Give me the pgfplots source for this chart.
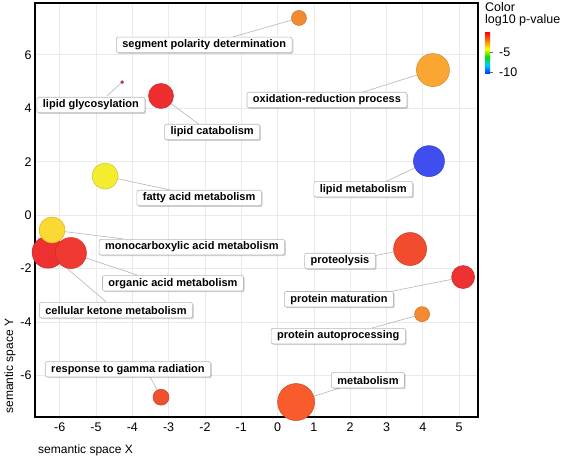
\documentclass[border=0pt]{standalone}
\usepackage{pgfplots}
\pgfplotsset{compat=1.18}
\usepackage{fontspec}
\setmainfont{Liberation Sans}
\usetikzlibrary{shadows}

\definecolor{cSeg}{HTML}{F28A30}
\definecolor{cGly}{HTML}{C04848}
\definecolor{cCat}{HTML}{EE2E2E}
\definecolor{cOx}{HTML}{FBA633}
\definecolor{cLip}{HTML}{3F4FEF}
\definecolor{cPro}{HTML}{F24B2D}
\definecolor{cMat}{HTML}{EE3131}
\definecolor{cAut}{HTML}{F58A30}
\definecolor{cMet}{HTML}{F85C2C}
\definecolor{cGam}{HTML}{F0502E}
\definecolor{cFat}{HTML}{F4EC2E}
\definecolor{cMono}{HTML}{FBD932}
\definecolor{cKet}{HTML}{EE3030}
\definecolor{cOrg}{HTML}{F03A31}
\definecolor{gridc}{HTML}{EAEAEA}
\definecolor{connc}{HTML}{BDBDBD}

\tikzset{
  lab/.style={draw=black!28, fill=white, rounded corners=2pt, line width=0.6pt,
    font=\fontsize{11}{12}\selectfont\bfseries, inner xsep=6pt, inner ysep=0pt,
    minimum height=15.5pt,
    drop shadow={shadow xshift=1.2pt, shadow yshift=-1.2pt, fill=black, opacity=0.18}},
  conn/.style={draw=connc, line width=0.7pt},
}
\pgfplotsset{
  bub/.style 2 args={only marks, mark=*, mark size=#1,
    mark options={fill=#2, draw=#2!82!black, line width=0.5pt}},
}

\begin{document}
\begin{tikzpicture}
\begin{axis}[
  at={(0pt,0pt)}, anchor=south west,
  scale only axis, width=443pt, height=414pt,
  xmin=-6.68, xmax=5.52, ymin=-7.56, ymax=7.94,
  xtick={-6,-5,-4,-3,-2,-1,0,1,2,3,4,5},
  xticklabels={-6,-5,-4,-3,-2,-1,0,1,2,3,4,5},
  ytick={-6,-4,-2,0,2,4,6},
  yticklabels={-6,-4,-2,0,2,4,6},
  grid=major, major grid style={draw=gridc, line width=0.7pt},
  axis line style={line width=1.3pt},
  major tick length=0pt,
  tick label style={font=\fontsize{12.5}{14}\selectfont},
  xticklabel style={yshift=-2pt},
]
% connectors
\draw[conn] (axis cs:0.59,7.38) -- (axis cs:-1.23,6.67);
\draw[conn] (axis cs:-4.28,4.98) -- (axis cs:-4.70,4.46);
\draw[conn] (axis cs:-3.21,4.46) -- (axis cs:-2.14,3.37);
\draw[conn] (axis cs:4.28,5.43) -- (axis cs:2.27,4.57);
\draw[conn] (axis cs:4.17,2.02) -- (axis cs:2.96,1.24);
\draw[conn] (axis cs:3.65,-1.27) -- (axis cs:2.63,-1.53);
\draw[conn] (axis cs:5.11,-2.32) -- (axis cs:3.04,-2.88);
\draw[conn] (axis cs:3.98,-3.71) -- (axis cs:2.60,-4.23);
\draw[conn] (axis cs:0.51,-7.00) -- (axis cs:1.72,-6.47);
\draw[conn] (axis cs:-3.21,-6.82) -- (axis cs:-3.51,-6.06);
\draw[conn] (axis cs:-4.75,1.46) -- (axis cs:-2.96,0.94);
\draw[conn] (axis cs:-6.21,-0.56) -- (axis cs:-4.26,-0.89);
\draw[conn] (axis cs:-5.69,-1.42) -- (axis cs:-3.79,-2.28);
\draw[conn] (axis cs:-6.32,-1.39) -- (axis cs:-4.72,-3.25);
% bubbles
\addplot[bub={7.5pt}{cSeg}] coordinates {(0.59,7.38)};
\addplot[bub={1.5pt}{cGly}] coordinates {(-4.28,4.98)};
\addplot[bub={12.5pt}{cCat}] coordinates {(-3.21,4.46)};
\addplot[bub={16.5pt}{cOx}] coordinates {(4.28,5.43)};
\addplot[bub={15.5pt}{cLip}] coordinates {(4.17,2.02)};
\addplot[bub={16.5pt}{cPro}] coordinates {(3.65,-1.27)};
\addplot[bub={11.5pt}{cMat}] coordinates {(5.11,-2.32)};
\addplot[bub={7.5pt}{cAut}] coordinates {(3.98,-3.71)};
\addplot[bub={18.5pt}{cMet}] coordinates {(0.51,-7.00)};
\addplot[bub={8pt}{cGam}] coordinates {(-3.21,-6.82)};
\addplot[bub={13pt}{cFat}] coordinates {(-4.75,1.46)};
\addplot[bub={16pt}{cKet}] coordinates {(-6.32,-1.39)};
\addplot[bub={15.5pt}{cOrg}] coordinates {(-5.69,-1.42)};
\addplot[bub={13pt}{cMono}] coordinates {(-6.21,-0.56)};
% labels
\node[lab] at (axis cs:-2.02,6.37) {segment polarity determination};
\node[lab] at (axis cs:-5.14,4.12) {lipid glycosylation};
\node[lab] at (axis cs:-1.80,3.11) {lipid catabolism};
\node[lab] at (axis cs:1.36,4.31) {oxidation-reduction process};
\node[lab] at (axis cs:2.36,0.97) {lipid metabolism};
\node[lab] at (axis cs:1.72,-1.72) {proteolysis};
\node[lab] at (axis cs:1.69,-3.15) {protein maturation};
\node[lab] at (axis cs:1.67,-4.53) {protein autoprocessing};
\node[lab] at (axis cs:2.49,-6.18) {metabolism};
\node[lab] at (axis cs:-4.12,-5.77) {response to gamma radiation};
\node[lab] at (axis cs:-2.16,0.64) {fatty acid metabolism};
\node[lab] at (axis cs:-2.36,-1.20) {monocarboxylic acid metabolism};
\node[lab] at (axis cs:-2.88,-2.55) {organic acid metabolism};
\node[lab] at (axis cs:-4.45,-3.56) {cellular ketone metabolism};
\end{axis}
% axis titles
\node[anchor=west, font=\fontsize{12}{14}\selectfont, inner sep=0pt] at (3pt,-33pt) {semantic space X};
\node[rotate=90, font=\fontsize{12}{14}\selectfont, inner sep=0pt] at (-25pt,51pt) {semantic space Y};
% colour key
\node[anchor=base west, font=\fontsize{12.5}{14}\selectfont, inner sep=0pt] at (450pt,405pt) {Color};
\node[anchor=base west, font=\fontsize{12.5}{14}\selectfont, inner sep=0pt] at (450pt,394pt) {log10 p-value};
\shade[bottom color=blue!75!cyan, top color=cyan!80!blue] (450pt,344pt) rectangle (455pt,352.2pt);
\shade[bottom color=cyan!80!blue, top color=green!80!black!60!green] (450pt,352pt) rectangle (455pt,360.2pt);
\shade[bottom color=green!80!black!60!green, top color=yellow] (450pt,360pt) rectangle (455pt,368.2pt);
\shade[bottom color=yellow, top color=orange] (450pt,368pt) rectangle (455pt,376.2pt);
\shade[bottom color=orange, top color=red] (450pt,376pt) rectangle (455pt,385pt);
\draw[black!60, line width=0.5pt] (455pt,365pt) -- (457.5pt,365pt);
\draw[black!60, line width=0.5pt] (455pt,345pt) -- (457.5pt,345pt);
\node[anchor=west, font=\fontsize{12.5}{14}\selectfont, inner sep=0pt] at (464pt,365pt) {-5};
\node[anchor=west, font=\fontsize{12.5}{14}\selectfont, inner sep=0pt] at (464pt,345pt) {-10};
\pgfresetboundingbox
\path (-35pt,-42pt) rectangle (529pt,417pt);
\end{tikzpicture}
\end{document}
